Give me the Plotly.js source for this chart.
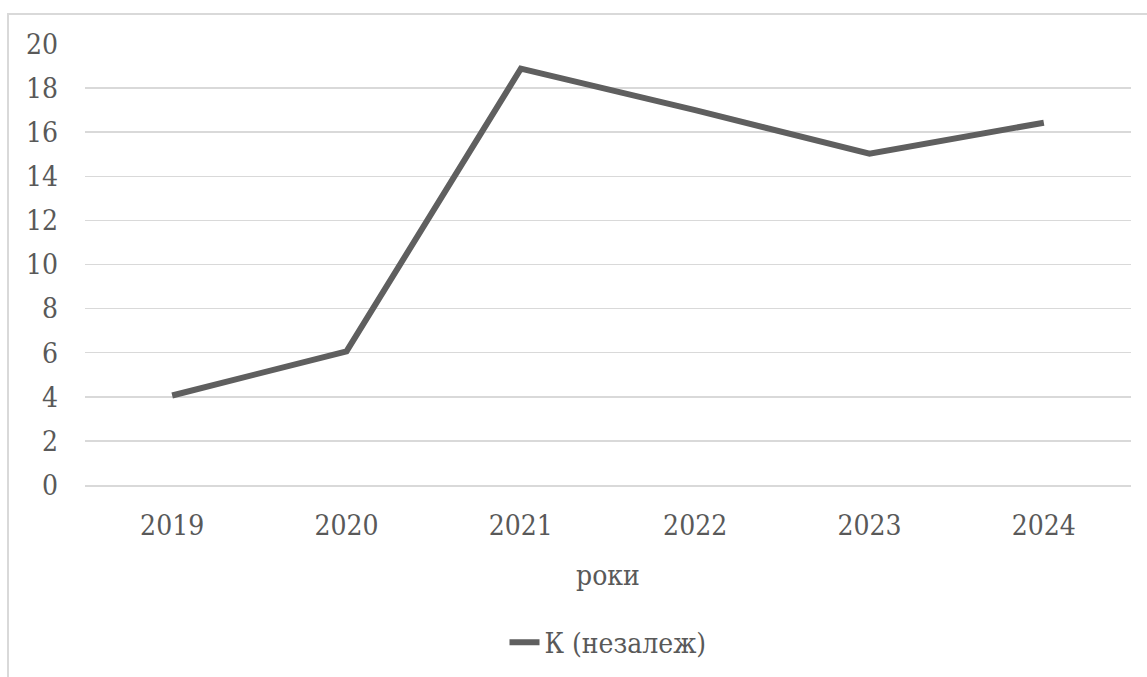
<!DOCTYPE html>
<html>
<head>
<meta charset="utf-8">
<script src="https://cdn.plot.ly/plotly-3.0.1.min.js"></script>
<style>
  html, body { margin: 0; padding: 0; background: #fff; overflow: hidden; }
  #chart { position: absolute; left: 0; top: 0; width: 1147px; height: 677px; }
  #frame { position: absolute; left: 7px; top: 13px; width: 1200px; height: 720px;
           border: 2px solid #d9d9d9; pointer-events: none; box-sizing: border-box; }
</style>
</head>
<body>
<div id="chart"></div>
<div id="frame"></div>
<script>
// Years along the category axis
const years = ['2019', '2020', '2021', '2022', '2023', '2024'];
// Coefficient values per year
const kValues = [4.06, 6.06, 18.88, 17.0, 15.03, 16.43];
// Y-axis tick values
const yTicks = [0, 2, 4, 6, 8, 10, 12, 14, 16, 18, 20];

const textColor = '#595959';
const fontFamily = 'DejaVu Serif Condensed, DejaVu Serif';
const fontSize = 28;

const trace = {
  x: years,
  y: kValues,
  type: 'scatter',
  mode: 'lines',
  name: 'К (незалеж)',
  line: { color: '#5f5f5f', width: 6 }
};

const layout = {
  width: 1147,
  height: 677,
  margin: { l: 85, r: 16, t: 44, b: 192, autoexpand: false },
  paper_bgcolor: '#ffffff',
  plot_bgcolor: '#ffffff',
  font: { family: fontFamily, size: fontSize, color: textColor },
  showlegend: true,
  legend: {
    orientation: 'h',
    x: 0.5, xanchor: 'center',
    y: -0.357, yanchor: 'middle',
    font: { family: fontFamily, size: fontSize, color: textColor },
    bgcolor: 'rgba(0,0,0,0)'
  },
  xaxis: {
    type: 'category',
    range: [-0.5, 5.5],
    showgrid: false,
    zeroline: false,
    showline: true,
    linecolor: '#d9d9d9',
    linewidth: 1.5,
    ticks: '',
    ticklabelstandoff: 15,
    tickfont: { family: fontFamily, size: fontSize, color: textColor },
    title: { text: 'роки', font: { family: fontFamily, size: fontSize, color: textColor }, standoff: 24 }
  },
  yaxis: {
    range: [0, 20],
    tickvals: yTicks,
    ticktext: yTicks.map(String),
    showgrid: true,
    gridcolor: '#d9d9d9',
    gridwidth: 1.5,
    zeroline: false,
    showline: false,
    ticks: '',
    ticklabelstandoff: 26,
    tickfont: { family: fontFamily, size: fontSize, color: textColor }
  }
};

Plotly.newPlot('chart', [trace], layout, { displayModeBar: false, staticPlot: true });
</script>
</body>
</html>
